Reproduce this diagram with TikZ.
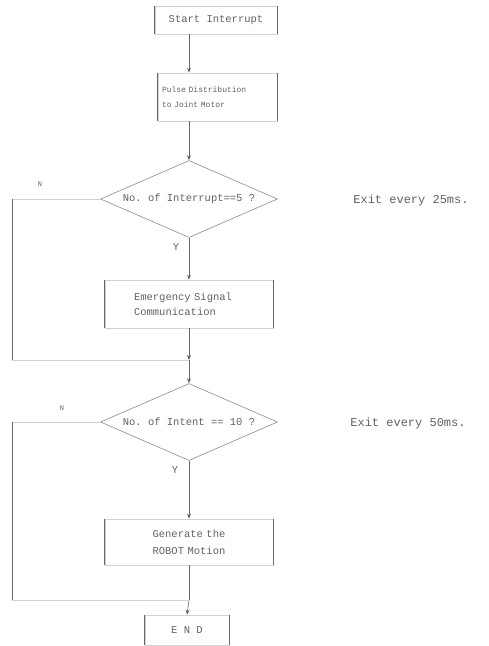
\documentclass[tikz,border=0pt]{standalone}
\usepackage{fontspec}
\setmonofont{Liberation Mono}
\usetikzlibrary{shapes.geometric,arrows.meta}
\begin{document}
\begin{tikzpicture}[x=1pt,y=-1pt,
  vline/.style={draw=black!60,line width=0.7pt},
  hline/.style={draw=black!18,line width=0.6pt},
  arr/.style={draw=black!60,line width=0.6pt,-{Stealth[length=5pt,width=4pt]}},
  txt/.style={font=\ttfamily\fontsize{10.5}{15}\selectfont,text=black!62,inner sep=0pt,align=center},
  boxn/.style={txt,draw=black!18,line width=0.6pt,rectangle},
  dia/.style={diamond,draw=black!45,line width=0.6pt,inner sep=0pt,minimum width=177pt,minimum height=77pt},
  fsmall/.style={font=\ttfamily\fontsize{8}{15}\selectfont},
  fbig/.style={font=\ttfamily\fontsize{12}{15}\selectfont},
  ftiny/.style={font=\ttfamily\fontsize{7}{9}\selectfont},
]
\useasboundingbox[fill=white] (0,0) rectangle (488,646);

% boxes
\node[boxn,minimum width=122pt,minimum height=28pt] (b1) at (216,20) {Start Interrupt};
\node[boxn,fsmall,minimum width=119pt,minimum height=48pt,text width=111pt,align=left] (b2) at (217.5,97) {Pulse Distribution\\to Joint Motor};
\node[dia] (d1) at (189,199) {};
\node[txt] (t1) at (d1) {No. of Interrupt==5 ?};
\node[txt,fbig] (a1) at (411,200) {Exit every 25ms.};
\node[txt] (y1) at (176,247) {Y};
\node[txt,ftiny] (n1) at (40,184) {N};
\node[boxn,minimum width=168pt,minimum height=48pt,text width=110pt,align=left] (b3) at (189,304) {Emergency Signal\\Communication};
\coordinate (j1) at (189,360);
\node[dia] (d2) at (189,422) {};
\node[txt] (t2) at (d2) {No. of Intent == 10 ?};
\node[txt,fbig] (a2) at (408,423) {Exit every 50ms.};
\node[txt] (y2) at (175,470) {Y};
\node[txt,ftiny] (n2) at (62,408) {N};
\node[boxn,minimum width=168pt,minimum height=46pt,text width=110pt,align=center,font=\ttfamily\fontsize{10.5}{17}\selectfont] (b4) at (189,542) {Generate the\\ROBOT Motion};
\coordinate (j2) at (189,600);
\node[boxn,minimum width=84pt,minimum height=30pt] (b5) at (187,630) {E N D};

% left loop corners
\coordinate (l1) at (12,199);
\coordinate (l1b) at (12,360);
\coordinate (l2) at (12,422);
\coordinate (l2b) at (12,600);

% box sides
\foreach \n in {b1,b2,b3,b4,b5}{
  \draw[vline] (\n.north west)--(\n.south west) (\n.north east)--(\n.south east);
}

% main connectors
\draw[arr] (b1.south -| d1.north) -- (b2.north -| d1.north);
\draw[arr] (b2.south -| d1.north) -- (d1.north);
\draw[arr] (d1.south) -- (b3.north);
\draw[arr] (b3.south) -- (j1);
\draw[arr] (j1) -- (d2.north);
\draw[arr] (d2.south) -- (b4.north);
\draw[vline] (b4.south) -- (j2);
\draw[arr] (j2) -- (b5.north);

% N branches
\draw[hline] (d1.west) -- (l1);
\draw[vline] (l1) -- (l1b);
\draw[hline] (l1b) -- (j1);
\draw[hline] (d2.west) -- (l2);
\draw[vline] (l2) -- (l2b);
\draw[hline] (l2b) -- (j2);
\end{tikzpicture}
\end{document}
